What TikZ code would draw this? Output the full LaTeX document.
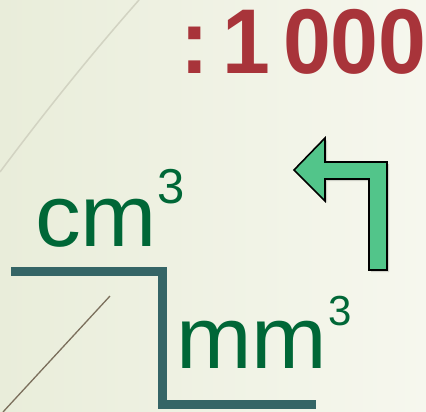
\documentclass[tikz,border=0pt]{standalone}
\usepackage{fontspec}
\setmainfont{Liberation Sans}
\definecolor{redtxt}{RGB}{168,52,58}
\definecolor{greentxt}{RGB}{0,103,55}
\definecolor{stepc}{RGB}{53,101,102}
\definecolor{arrowfill}{RGB}{82,197,138}
\definecolor{bgl}{RGB}{233,237,218}
\definecolor{bgr}{RGB}{246,247,238}
\definecolor{faintline}{RGB}{210,211,194}
\definecolor{brownline}{RGB}{123,111,92}
\begin{document}
\begin{tikzpicture}[x=1pt,y=-1pt,
  unit/.style={text=greentxt, font=\fontsize{88}{88}\selectfont, inner sep=0pt, anchor=base west},
  ratio/.style={text=redtxt, font=\bfseries\fontsize{92}{92}\selectfont, inner sep=0pt, anchor=base west},
  stepline/.style={draw=stepc, line width=9pt, miter limit=10},
  turnarrow/.style={fill=arrowfill, draw=black, line width=1.6pt, line join=miter}]
\useasboundingbox (0,0) rectangle (426,412);
\shade[left color=bgl, right color=bgr] (0,0) rectangle (426,412);
% decorative thin lines
\draw[faintline, line width=1.5pt] (0,172) .. controls (50,105) and (95,50) .. (139,0);
\draw[brownline, line width=1.3pt] (3,412) -- (110,296);
% texts
\node[ratio] (ratio) at (180,74) {\scalebox{0.935}[1]{:\kern14.4pt 1\kern14pt 000}};
\node[unit] (cm) at (35,246) {\scalebox{1.04}[1]{cm}\raisebox{43pt}{\fontsize{49}{49}\selectfont 3}};
\node[unit] (mm) at (176,368) {\scalebox{1.03}[1]{mm}\hspace{1.5pt}\raisebox{43pt}{\fontsize{42}{42}\selectfont 3}};
% step line
\coordinate (s1) at (11,271);
\coordinate (s2) at (162,271);
\coordinate (s3) at (162,404);
\coordinate (s4) at (316,404);
\draw[stepline] (s1) -- (s2) -- (s3) -- (s4);
% turn arrow with shadow
\fill[black, opacity=0.15] (296,172) -- (327,140) -- (327,164) -- (389,164) -- (389,272) -- (371,272) -- (371,181) -- (327,181) -- (327,203) -- cycle;
\draw[turnarrow] (294,170) -- (325,138) -- (325,162) -- (387,162) -- (387,270) -- (369,270) -- (369,179) -- (325,179) -- (325,201) -- cycle;
\end{tikzpicture}
\end{document}
